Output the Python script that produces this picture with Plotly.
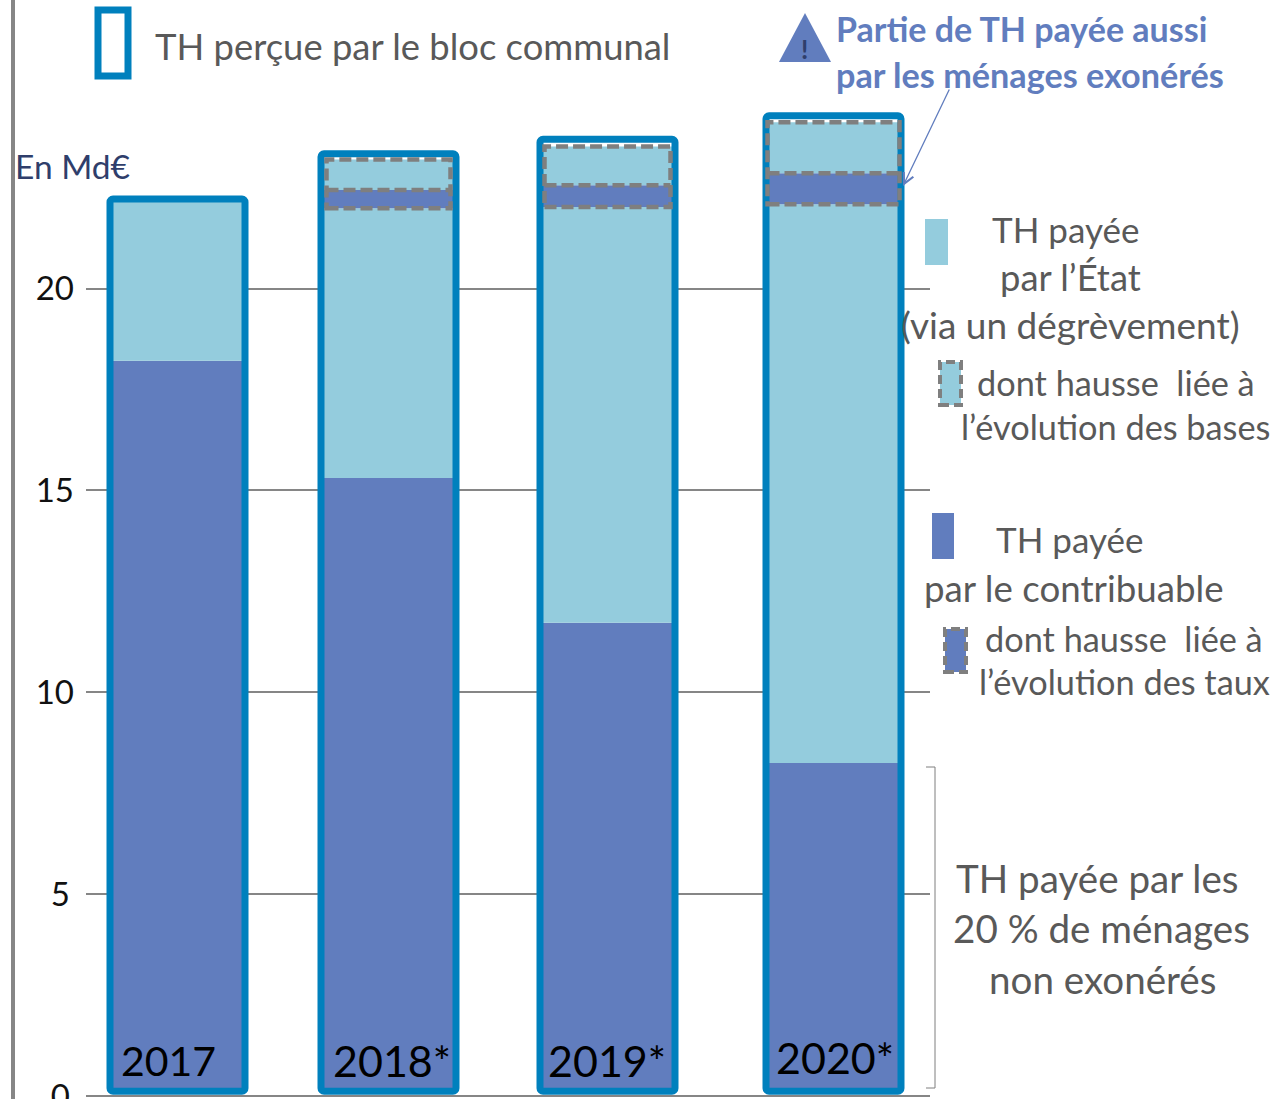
import plotly.graph_objects as go

# --- data (Md€)
years = ["2017", "2018*", "2019*", "2020*"]
paid_by_taxpayer = [18.21, 15.31, 11.72, 8.25]
paid_by_state = [22.15, 21.99, 22.02, 22.09]        # cumulative top of the state band
rate_rise_top = [None, 22.44, 22.56, 22.86]         # cumulative top of rate-rise band
base_rise_top = [None, 23.20, 23.52, 24.12]         # cumulative top of base-rise band
frame_total = [22.22, 23.34, 23.70, 24.28]
tick_values = [0, 5, 10, 15, 20]
tick_labels = ["0\u2009", "5\u2009", "10", "15", "20"]

# --- layout constants
W, H = 1276, 1099
L, R, T, B = 86, 346, 0, 1
PX_PER_UNIT = 40.37
ZERO_PAD = 2 / PX_PER_UNIT
BAR_CENTERS = [177.5, 388.5, 607.5, 833.5]
BAR_W = 135
DASH_HALF = [None, 62, 63, 66]
FRAME_BASE = 0.12
BLUE, LIGHT, EDGE, GRAY, TXT = "#617DBE", "#94CCDD", "#0080BD", "#7F7F7F", "#595959"
FONT = "Lato"


def px(x):
    return (x - L) / (W - L - R)


def py(y):
    return (H - B - y) / (H - B - T)


fig = go.Figure()


def band(lo, hi, color):
    fig.add_trace(go.Bar(x=BAR_CENTERS, base=lo, y=[h - l for h, l in zip(hi, lo)], width=BAR_W,
                         marker=dict(color=color, line=dict(width=0)), showlegend=False))


bases = [FRAME_BASE] * 4
band(bases, paid_by_taxpayer, BLUE)
band(paid_by_taxpayer, frame_total[:1] + paid_by_state[1:], LIGHT)
idx = [1, 2, 3]
for top_lo, top_hi, col in ((paid_by_state, rate_rise_top, BLUE), (rate_rise_top, base_rise_top, LIGHT)):
    fig.add_trace(go.Bar(x=[BAR_CENTERS[i] for i in idx], base=[top_lo[i] for i in idx],
                         y=[top_hi[i] - top_lo[i] for i in idx], width=BAR_W,
                         marker=dict(color=col, line=dict(width=0)), showlegend=False))
# frames
fig.add_trace(go.Bar(x=BAR_CENTERS, base=[FRAME_BASE] * 4, y=[t - FRAME_BASE for t in frame_total], width=BAR_W,
                     marker=dict(color="rgba(0,0,0,0)", line=dict(color=EDGE, width=7), cornerradius=3),
                     showlegend=False))

shapes = []
# dashed outline and divider, derived from the values
for i in idx:
    x0, x1 = BAR_CENTERS[i] - DASH_HALF[i], BAR_CENTERS[i] + DASH_HALF[i]
    dash_line = dict(color=GRAY, width=4.5, dash="12px,5px")
    shapes.append(dict(type="rect", xref="x", yref="y", layer="above", x0=x0, x1=x1,
                       y0=paid_by_state[i], y1=base_rise_top[i], line=dash_line, fillcolor="rgba(0,0,0,0)"))
    shapes.append(dict(type="line", xref="x", yref="y", layer="above", x0=x0, x1=x1,
                       y0=rate_rise_top[i], y1=rate_rise_top[i], line=dash_line))


def rect(x0, y0, x1, y1, fill="rgba(0,0,0,0)", color=None, width=0, dash=None):
    shapes.append(dict(type="rect", xref="paper", yref="paper", x0=px(x0), x1=px(x1), y0=py(y1), y1=py(y0),
                       fillcolor=fill, line=dict(color=color or fill, width=width, dash=dash)))


def seg(pts, color, width):
    for (a, b), (c, d) in zip(pts, pts[1:]):
        shapes.append(dict(type="line", xref="paper", yref="paper", x0=px(a), y0=py(b), x1=px(c), y1=py(d),
                           line=dict(color=color, width=width)))


seg([(13, 0), (13, H)], "#868686", 4)                      # left rule
rect(98, 10, 128, 76, color=EDGE, width=7)                  # frame swatch
rect(925, 219, 948, 265, fill=LIGHT)
rect(940, 362, 961, 405, fill=LIGHT, color=GRAY, width=4, dash="9px,5px")
rect(932, 513, 954, 559, fill=BLUE)
rect(945, 629, 966, 672, fill=BLUE, color=GRAY, width=4, dash="9px,5px")
seg([(926, 767), (935, 767), (935, 1088), (926, 1088)], "#7F7F7F", 1)
shapes.append(dict(type="path", xref="paper", yref="paper", line=dict(width=0), fillcolor=BLUE,
                   path=f"M{px(779)},{py(62)} L{px(805)},{py(13)} L{px(831)},{py(62)} Z"))

ann = []


def text(s, x, y, size, color=TXT, bold=False, anchor="center"):
    ann.append(dict(text=f"<b>{s}</b>" if bold else s, xref="paper", yref="paper", x=px(x), y=py(y - 2),
                    xanchor=anchor, yanchor="middle", showarrow=False,
                    font=dict(family=FONT, size=size, color=color)))


SZ = 36.4
SM = 34.3
LG = 38.6
text("TH perçue par le bloc communal", 412.5, 48, SZ)
text("En Md€", 72, 168, 33.5, color="#2F3E6B")
text("!", 804, 51, 26, color="#2F3E6B", bold=True)
text("Partie de TH payée aussi", 1021, 31, 34, color=BLUE, bold=True)
text("par les ménages exonérés", 1029.5, 76, 34.2, color=BLUE, bold=True)
text("TH payée", 1065, 231, 35)
text("par l’État", 1070, 279, SZ)
text("(via un dégrèvement)", 1070, 326, SZ + 0.6)
text("dont hausse  liée à", 1115.5, 384, SM)
text("l’évolution des bases", 1115.5, 428, SM)
text("TH payée", 1069, 541, 35)
text("par le contribuable", 1073.5, 590, SZ + 0.3)
text("dont hausse  liée à", 1123.5, 640, SM)
text("l’évolution des taux", 1124, 683, SM)
text("TH payée par les", 1097, 880, LG)
text("20 % de ménages", 1101.5, 930, LG)
text("non exonérés", 1102, 981, LG)
for year, cx, cy, fs in zip(years, (168, 392, 607, 835), (1062, 1062, 1062, 1059), (41, 43, 43, 43)):
    text(year, cx, cy, fs, color="#000000")

ann.append(dict(xref="paper", yref="paper", x=px(903), y=py(186), ax=47, ay=-98, text="", showarrow=True,
                arrowhead=5, arrowsize=1.6, arrowwidth=1.3, arrowcolor=BLUE, standoff=0))

fig.update_layout(
    width=W, height=H, margin=dict(l=L, r=R, t=T, b=B, pad=0, autoexpand=False),
    paper_bgcolor="white", plot_bgcolor="white", barmode="overlay", showlegend=False,
    xaxis=dict(range=[L, W - R], showgrid=False, zeroline=False, showticklabels=False, ticks="", showline=False, fixedrange=True),
    yaxis=dict(range=[-ZERO_PAD, (H - B - T) / PX_PER_UNIT - ZERO_PAD], tickvals=tick_values, ticktext=tick_labels, showgrid=True,
               gridcolor="#868686", gridwidth=1.5, zeroline=False, showline=False, ticks="", ticklabelstandoff=11,
               ticklabeloverflow="allow",
               tickfont=dict(family=FONT, size=33, color="#111111"), fixedrange=True),
    shapes=shapes, annotations=ann,
)
fig.write_html("out.html", config=dict(displayModeBar=False),
               post_script="document.body.style.margin='0';document.documentElement.style.overflow='hidden';")
